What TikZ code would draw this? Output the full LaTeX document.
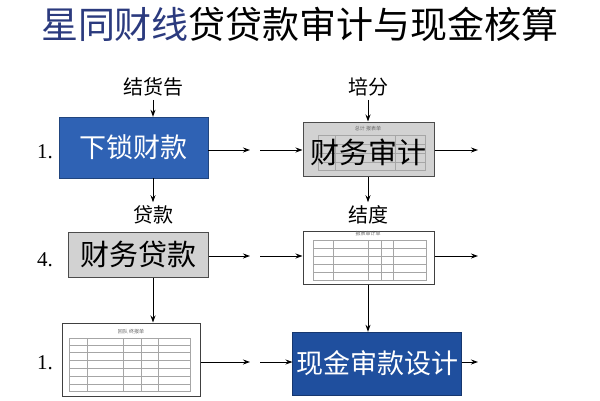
\documentclass[tikz,border=0pt]{standalone}
\usepackage{fontspec}
\setmainfont{Noto Sans CJK SC}
\newfontfamily\numf{Liberation Serif}
\usetikzlibrary{arrows.meta}
\definecolor{tblue}{HTML}{2B3A7E}
\definecolor{bblue}{HTML}{2F62B4}
\definecolor{dblue}{HTML}{1F4F9E}
\definecolor{gbox}{HTML}{D2D2D2}
\begin{document}
\begin{tikzpicture}[x=1pt,y=-1pt,
  arr/.style={-{Stealth[length=7pt,width=5pt]},line width=0.9pt},
  lab/.style={font=\fontsize{20}{20}\selectfont},
  num/.style={font=\numf\fontsize{21}{21}\selectfont},
  blue/.style={draw=bblue!70!black,fill=bblue,text=white,font=\fontsize{27}{27}\selectfont},
  gray/.style={draw=black!70,line width=1pt,fill=gbox,font=\fontsize{29}{29}\selectfont},
  form/.style={draw=black!75,line width=1pt,fill=white},
  grid/.style={draw=black!35,line width=0.4pt}]
\useasboundingbox (0,0) rectangle (600,400);
\fill[white] (0,0) rectangle (600,400);
\node (title) at (300,24) {\fontsize{37}{37}\selectfont\textcolor{tblue}{星同财线}贷贷款审计与现金核算};
% box1
\node[blue,minimum width=149pt,minimum height=61pt] (b1) at (133.5,147.5) {下锁财款};
\node[lab] (l1) at (153,87) {结货告};
\node[num] (n1) at (45,152) {1.};
% box2
\node[gray,minimum width=131pt,minimum height=54pt] (b2) at (368.5,149) {};
\draw[grid] (318,135) rectangle (425,170);
\foreach \x in {335,395} \draw[grid] (\x,135)--(\x,170);
\foreach \y in {144,153,162} \draw[grid] (318,\y)--(425,\y);
\node[font=\fontsize{5}{5}\selectfont,text=black!60] (b2t) at (368,129) {总计 报表单};
\node[font=\fontsize{29}{29}\selectfont] (b2l) at (368.5,152) {财务审计};
\node[lab] (l2) at (368,87) {培分};
% box3
\node[gray,minimum width=140pt,minimum height=45pt] (b3) at (138,254.5) {财务贷款};
\node[lab] (l3) at (153,215) {贷款};
\node[num] (n3) at (45,260) {4.};
% box4
\node[form,minimum width=131pt,minimum height=53pt] (b4) at (368.5,257.5) {};
\node[font=\fontsize{5}{5}\selectfont,text=black!60] (b4t) at (368,234) {报表审计单};
\draw[grid] (313,240) rectangle (426,280);
\foreach \x in {333,368,381,393} \draw[grid] (\x,240)--(\x,280);
\foreach \y in {248,256,264,272} \draw[grid] (313,\y)--(426,\y);
\node[lab] (l4) at (368,215) {结度};
% box5
\node[form,minimum width=138pt,minimum height=73pt] (b5) at (131,359.5) {};
\node[font=\fontsize{5}{5}\selectfont,text=black!60] (b5t) at (131,332) {回队 终报单};
\draw[grid] (69,338) rectangle (190,391);
\foreach \x in {87,123,141,158} \draw[grid] (\x,338)--(\x,391);
\foreach \y in {345,352,360,368,376,384} \draw[grid] (69,\y)--(190,\y);
\node[num] (n5) at (45,363) {1.};
% box6
\node[draw=dblue!70!black,fill=dblue,text=white,font=\fontsize{27}{27}\selectfont,minimum width=162pt,minimum height=63pt] (b6) at (377,363.5) {现金审款设计};
% connectors
\draw[arr] (l1) -- (l1 |- b1.north);
\draw[arr] (l2) -- (l2 |- b2.north);
\draw[arr] (l3 |- b1.south) -- (l3);
\draw[arr] (l4 |- b2.south) -- (l4);
\draw[arr] (l3 |- b3.south) -- (l3 |- b5.north);
\draw[arr] (l4 |- b4.south) -- (l4 |- b6.north);
\coordinate (a1) at (250,150); \coordinate (c1) at (260,150); \coordinate (o1) at (478,150);
\coordinate (a2) at (250,256); \coordinate (c2) at (260,256); \coordinate (o2) at (478,256);
\coordinate (a3) at (250,362); \coordinate (c3) at (260,362); \coordinate (o3) at (478,362);
\draw[arr] (b1.east|-a1) -- (a1);
\draw[arr] (c1) -- (b2.west|-c1);
\draw[arr] (b2.east|-o1) -- (o1);
\draw[arr] (b3.east|-a2) -- (a2);
\draw[arr] (c2) -- (b4.west|-c2);
\draw[arr] (b4.east|-o2) -- (o2);
\draw[arr] (b5.east|-a3) -- (a3);
\draw[arr] (c3) -- (b6.west|-c3);
\draw[arr] (b6.east|-o3) -- (o3);
\end{tikzpicture}
\end{document}
